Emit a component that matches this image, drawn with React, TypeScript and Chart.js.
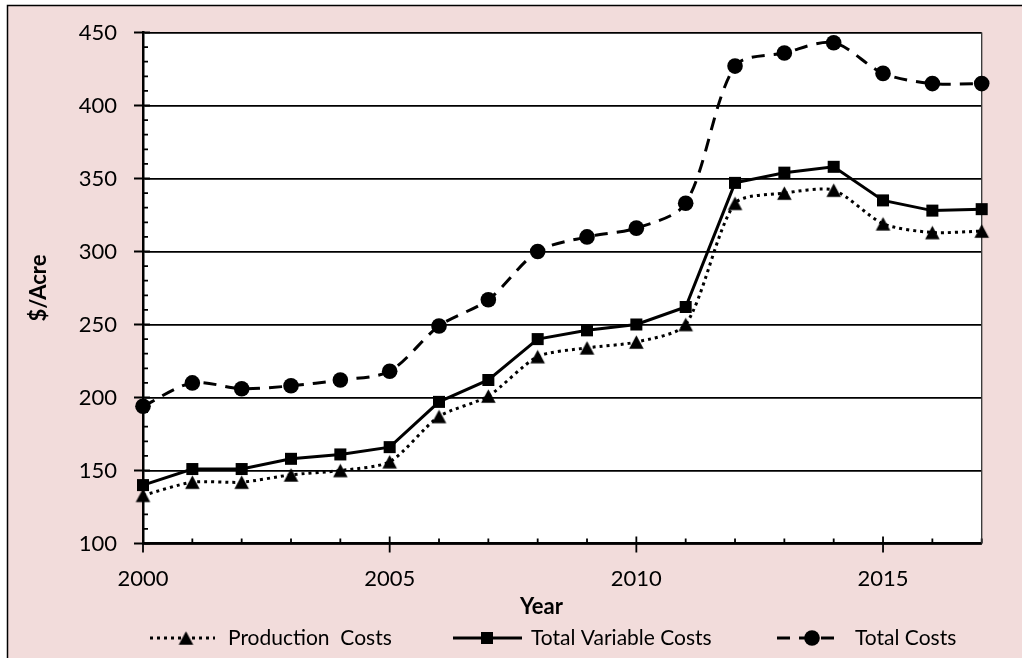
import React, { useEffect, useRef } from 'react';
import { Chart, registerables } from 'chart.js';
Chart.register(...registerables);

const years = [2000, 2001, 2002, 2003, 2004, 2005, 2006, 2007, 2008, 2009, 2010, 2011, 2012, 2013, 2014, 2015, 2016, 2017];
const productionCosts = [133, 142, 142, 147, 150, 156, 187, 201, 228, 234, 238, 250, 333, 340, 342, 319, 313, 314];
const totalVariableCosts = [140, 151, 151, 158, 161, 166, 197, 212, 240, 246, 250, 262, 347, 354, 358, 335, 328, 329];
const totalCosts = [194, 210, 206, 208, 212, 218, 249, 267, 300, 310, 316, 333, 427, 436, 443, 422, 415, 415];
const seriesLabels = ['Production  Costs', 'Total Variable Costs', 'Total Costs'];
const xTitle = 'Year';
const yTitle = '$/Acre';
const yMin = 100;
const yMax = 450;
const yStep = 50;
const xMin = 2000;
const xMax = 2017;
const xStep = 5;

const FONT = 'Lato, "Open Sans", sans-serif';
const PINK = '#f2dcdb';

function makeTriangle(w: number, h: number): HTMLCanvasElement {
  const c = document.createElement('canvas');
  c.width = Math.ceil(w) + 2;
  c.height = Math.ceil(h) + 2;
  const g = c.getContext('2d')!;
  const cx = c.width / 2;
  const top = (c.height - h) / 2;
  g.fillStyle = '#000';
  g.beginPath();
  g.moveTo(cx, top);
  g.lineTo(cx + w / 2, top + h);
  g.lineTo(cx - w / 2, top + h);
  g.closePath();
  g.fill();
  return c;
}

function drawMarker(ctx: CanvasRenderingContext2D, style: any, x: number, y: number, r: number) {
  if (style instanceof HTMLCanvasElement) {
    ctx.drawImage(style, x - style.width / 2, y - style.height / 2);
    return;
  }
  ctx.beginPath();
  if (style === 'circle') {
    ctx.arc(x, y, r, 0, Math.PI * 2);
  } else {
    const s = Math.SQRT1_2 * r;
    ctx.rect(x - s, y - s, 2 * s, 2 * s);
  }
  ctx.fillStyle = '#000';
  ctx.fill();
}

const decor = {
  id: 'decor',
  beforeDraw(chart: any) {
    const { ctx, chartArea: a, width, height } = chart;
    ctx.save();
    ctx.fillStyle = '#fff';
    ctx.fillRect(0, 0, width, height);
    ctx.fillStyle = PINK;
    ctx.fillRect(7, 5, width - 7, height - 5);
    ctx.strokeStyle = '#000';
    ctx.lineWidth = 1.5;
    ctx.beginPath();
    ctx.moveTo(7.5, height);
    ctx.lineTo(7.5, 5.5);
    ctx.lineTo(width, 5.5);
    ctx.stroke();
    ctx.fillStyle = '#fff';
    ctx.fillRect(a.left, a.top, a.right - a.left, a.bottom - a.top);
    ctx.restore();
  },
  beforeDatasetsDraw(chart: any) {
    const { ctx, chartArea: a, scales } = chart;
    const xs = scales.x;
    const ys = scales.y;
    ctx.save();
    ctx.strokeStyle = '#000';
    ctx.lineWidth = 1.8;
    ctx.beginPath();
    for (let v = yMin; v <= yMax; v += 10) {
      const p = ys.getPixelForValue(v);
      if (v % yStep === 0) {
        ctx.moveTo(a.left - 9, p);
        ctx.lineTo(a.left + 7, p);
      } else {
        ctx.moveTo(a.left, p);
        ctx.lineTo(a.left + 5, p);
      }
    }
    for (let v = xMin; v <= xMax; v += 1) {
      const p = xs.getPixelForValue(v);
      if (v % xStep === 0) {
        ctx.moveTo(p, a.bottom - 7);
        ctx.lineTo(p, a.bottom + 9);
      } else {
        ctx.moveTo(p, a.bottom - 5);
        ctx.lineTo(p, a.bottom);
      }
    }
    ctx.stroke();
    ctx.strokeStyle = '#333';
    ctx.lineWidth = 1.3;
    ctx.beginPath();
    ctx.moveTo(a.right, a.top);
    ctx.lineTo(a.right, a.bottom);
    ctx.stroke();
    ctx.restore();
  },
  afterDraw(chart: any) {
    const { ctx, chartArea: a } = chart;
    ctx.save();
    ctx.fillStyle = '#000';
    ctx.font = `bold 22px ${FONT}`;
    ctx.textAlign = 'center';
    ctx.textBaseline = 'middle';
    ctx.fillText(xTitle, 541.5, 607);
    ctx.save();
    ctx.translate(38.5, (a.top + a.bottom) / 2);
    ctx.rotate(-Math.PI / 2);
    ctx.fillText(yTitle, 0, 0);
    ctx.restore();

    const items = [
      { x0: 150, x1: 215, mx: 186, tx: 228 },
      { x0: 453, x1: 522, mx: 487, tx: 531 },
      { x0: 777, x1: 837, mx: 812, tx: 855 },
    ];
    const ly = 638;
    chart.data.datasets.forEach((ds: any, i: number) => {
      const it = items[i];
      ctx.save();
      ctx.strokeStyle = '#000';
      ctx.lineWidth = ds.borderWidth;
      ctx.setLineDash(ds.borderDash || []);
      ctx.lineCap = 'butt';
      ctx.beginPath();
      ctx.moveTo(it.x0, ly);
      ctx.lineTo(it.x1, ly);
      ctx.stroke();
      ctx.restore();
      drawMarker(ctx, ds.pointStyle, it.mx, ly, ds.pointRadius);
      ctx.fillStyle = '#000';
      ctx.font = `21px ${FONT}`;
      ctx.textAlign = 'left';
      ctx.textBaseline = 'middle';
      ctx.fillText(ds.label, it.tx, ly);
    });
    ctx.restore();
  },
};

export default function App() {
  const ref = useRef<HTMLCanvasElement | null>(null);
  useEffect(() => {
    if (!ref.current) return;
    const pts = (arr: number[]) => years.map((yr, i) => ({ x: yr, y: arr[i] }));
    const tri = makeTriangle(14.5, 13.5);
    const chart = new Chart(ref.current, {
      type: 'line',
      data: {
        datasets: [
          {
            label: seriesLabels[0],
            data: pts(productionCosts),
            borderColor: '#000',
            backgroundColor: '#000',
            borderWidth: 3,
            borderDash: [3, 4],
            pointStyle: tri,
            pointRadius: 8,
            pointBorderWidth: 0,
            tension: 0.25,
            clip: false,
          },
          {
            label: seriesLabels[1],
            data: pts(totalVariableCosts),
            borderColor: '#000',
            backgroundColor: '#000',
            borderWidth: 3,
            pointStyle: 'rect',
            pointRadius: 8.5,
            pointBorderWidth: 0,
            tension: 0,
            clip: false,
          },
          {
            label: seriesLabels[2],
            data: pts(totalCosts),
            borderColor: '#000',
            backgroundColor: '#000',
            borderWidth: 3,
            borderDash: [13, 9],
            pointStyle: 'circle',
            pointRadius: 7.8,
            pointBorderWidth: 0,
            tension: 0.3,
            clip: false,
          },
        ] as any,
      },
      options: {
        responsive: false,
        animation: false,
        events: [],
        layout: { padding: { top: 32.5, right: 40.3, left: 0, bottom: 0 } },
        plugins: { legend: { display: false }, tooltip: { enabled: false } },
        scales: {
          x: {
            type: 'linear',
            min: xMin,
            max: xMax,
            afterBuildTicks: (s: any) => {
              s.ticks = s.ticks.filter((t: any) => t.value % xStep === 0);
            },
            ticks: {
              stepSize: xStep,
              color: '#000',
              font: { family: FONT, size: 22 },
              padding: 22,
              callback: (v: any) => String(v),
            },
            grid: { display: false, drawTicks: false },
            border: { display: true, color: '#000', width: 2.5 },
            afterFit: (s: any) => {
              s.height = 658 - 543.5;
              s.paddingLeft = 0;
              s.paddingRight = 0;
            },
          },
          y: {
            min: yMin,
            max: yMax,
            ticks: {
              stepSize: yStep,
              color: '#000',
              font: { family: FONT, size: 22 },
              padding: 26,
            },
            grid: { color: '#000', lineWidth: 1.8, drawTicks: false },
            border: { display: true, color: '#000', width: 2.5 },
            afterFit: (s: any) => {
              s.width = 143;
              s.paddingTop = 0;
              s.paddingBottom = 0;
            },
          },
        },
      },
      plugins: [decor],
    });
    return () => chart.destroy();
  }, []);
  return (
    <div style={{ position: 'absolute', left: 0, top: 0, width: 1022, height: 658 }}>
      <canvas ref={ref} width={1022} height={658} style={{ display: 'block' }} />
    </div>
  );
}
